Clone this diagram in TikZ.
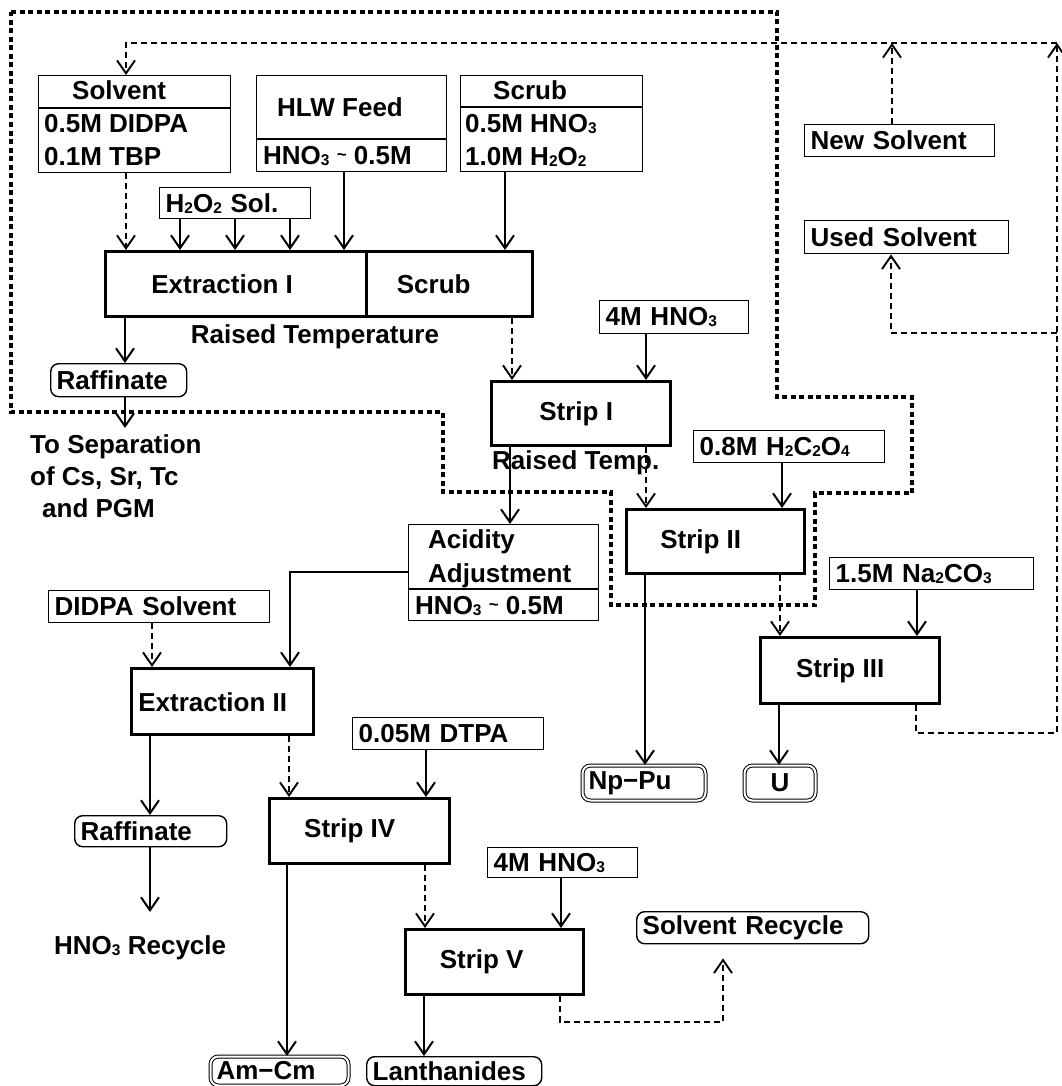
\documentclass[tikz,border=0pt]{standalone}
\usepackage{fontspec}
\setmainfont{Liberation Sans}
\usetikzlibrary{arrows.meta}
\newcommand\sbs[1]{\raisebox{-1pt}{\fontsize{15.5}{15.5}\selectfont #1}}
\newcommand\tld{\raisebox{4pt}{\fontsize{17}{17}\selectfont\textasciitilde}}
\tikzset{
  inbox/.style={draw, line width=1.4pt, anchor=north west, inner xsep=6pt, inner ysep=0pt, align=left},
  proc/.style={draw, line width=3.4pt, anchor=north west, inner sep=0pt},
  rbox/.style={draw, line width=1.4pt, rounded corners=8pt, anchor=north west, inner xsep=6pt, inner ysep=0pt, align=left},
  dbox/.style={draw, line width=1pt, double, double distance=2pt, rounded corners=8pt, anchor=north west, inner xsep=6pt, inner ysep=0pt, align=left},
  divl/.style={line width=1.4pt},
  flow/.style={line width=2pt, -{Straight Barb[length=13pt,width=18pt]}},
  sflow/.style={line width=1.9pt, dash pattern=on 6pt off 4pt, -{Straight Barb[length=13pt,width=18pt]}},
  region/.style={line width=3.3pt, dash pattern=on 5pt off 3.5pt},
  txt/.style={anchor=base west, inner sep=0pt}
}
\begin{document}
\begin{tikzpicture}[x=1pt, y=-1pt, font=\fontsize{26}{30}\selectfont\bfseries]
\useasboundingbox[fill=white] (0,0) rectangle (1061,1086);

% region boundary
\draw[region] (11,12) -- (777,12) -- (777,397) -- (912,397) -- (912,493) -- (815,493) -- (815,605) -- (611,605) -- (611,492) -- (443,492) -- (443,412) -- (11,412) -- cycle;

% feed boxes
\node[inbox, minimum width=192pt, minimum height=97pt] (solv) at (38,75) {};
\draw[divl] (solv.west |- 0,108) -- (solv.east |- 0,108);
\node[txt] (solvT) at (72,100) {Solvent};
\node[txt] (solvA) at (44,133) {0.5M DIDPA};
\node[txt] (solvB) at (44,166) {0.1M TBP};

\node[inbox, minimum width=190pt, minimum height=96pt] (hlw) at (256,75) {};
\draw[divl] (hlw.west |- 0,139) -- (hlw.east |- 0,139);
\node[txt] (hlwT) at (277,117) {HLW Feed};
\node[txt] (hlwA) at (263,165) {HNO\sbs3 \tld{} 0.5M};

\node[inbox, minimum width=182pt, minimum height=96pt] (scrubin) at (460,75) {};
\draw[divl] (scrubin.west |- 0,107) -- (scrubin.east |- 0,107);
\node[txt] (scrT) at (493,100) {Scrub};
\node[txt] (scrA) at (465,133) {0.5M HNO\sbs3};
\node[txt] (scrB) at (465,166) {1.0M H\sbs2O\sbs2};

\node[inbox, minimum width=151pt, minimum height=31pt, text width=139pt] (h2o2) at (159,187) {H\sbs2O\sbs2 Sol.};

% Extraction I / Scrub
\node[proc, minimum width=261pt, minimum height=65pt] (ext1) at (104,250) {Extraction I\kern28pt};
\node[proc, minimum width=166pt, minimum height=65pt] (scrubp) at (365,250) {Scrub\kern32pt};
\node[anchor=base, inner sep=0pt] (rt) at (315,343) {Raised Temperature};

\node[rbox, minimum width=136pt, minimum height=33pt, text width=124pt] (raf1) at (50,363) {Raffinate};
\coordinate (sepArr) at (125,428);
\node[txt] (sep1) at (30,453) {To Separation};
\node[txt] (sep2) at (30,485) {of Cs, Sr, Tc};
\node[txt] (sep3) at (42,517) {and PGM};

% Strip I, II, III
\node[proc, minimum width=179pt, minimum height=64pt] (s1) at (490,380) {Strip I\kern10pt};
\node[inbox, minimum width=149pt, minimum height=33pt, text width=137pt] (hno1) at (599,300) {4M HNO\sbs3};
\node[txt] (rtemp) at (492,469) {Raised Temp.};

\node[proc, minimum width=178pt, minimum height=64pt] (s2) at (625,508) {Strip II\kern30pt};
\node[inbox, minimum width=191pt, minimum height=32pt, text width=179pt] (h2c) at (693,430) {0.8M H\sbs2C\sbs2O\sbs4};

\node[proc, minimum width=179pt, minimum height=66pt] (s3) at (759,636) {Strip III\kern20pt};
\node[inbox, minimum width=204pt, minimum height=32pt, text width=192pt] (na) at (829,557) {1.5M Na\sbs2CO\sbs3};

\node[dbox, minimum width=123pt, minimum height=35pt, text width=111pt] (nppu) at (582,765) {Np−Pu};
\node[dbox, minimum width=71pt, minimum height=35pt, text width=59pt, align=center] (u) at (744,765) {U};

% Acidity adjustment and Extraction II
\node[inbox, minimum width=190pt, minimum height=96pt] (acid) at (408,524) {};
\draw[divl] (acid.west |- 0,589) -- (acid.east |- 0,589);
\node[txt] (acT) at (428,548) {Acidity};
\node[txt] (acA) at (428,582) {Adjustment};
\node[txt] (acB) at (415,614) {HNO\sbs3 \tld{} 0.5M};

\node[inbox, minimum width=221pt, minimum height=32pt, text width=209pt] (didpa) at (48,590) {DIDPA Solvent};
\node[proc, minimum width=182pt, minimum height=66pt] (ext2) at (130,667) {Extraction II\kern20pt};
\node[rbox, minimum width=152pt, minimum height=31pt, text width=140pt] (raf2) at (74,815) {Raffinate};
\coordinate (hrecArr) at (150,912);
\node[txt] (hrec) at (54,954) {HNO\sbs3 Recycle};

\node[inbox, minimum width=191pt, minimum height=32pt, text width=179pt] (dtpa) at (352,717) {0.05M DTPA};
\node[proc, minimum width=180pt, minimum height=65pt] (s4) at (268,797) {Strip IV\kern20pt};
\node[inbox, minimum width=150pt, minimum height=30pt, text width=138pt] (hno2) at (487,847) {4M HNO\sbs3};
\node[proc, minimum width=178pt, minimum height=65pt] (s5) at (404,928) {Strip V\kern26pt};

\node[dbox, minimum width=138pt, minimum height=29pt, text width=126pt] (amcm) at (210,1056) {Am−Cm};
\node[rbox, minimum width=175pt, minimum height=29pt, text width=163pt] (lanth) at (366,1056) {Lanthanides};
\node[rbox, minimum width=232pt, minimum height=32pt, text width=220pt] (srec) at (636,911) {Solvent Recycle};

\node[inbox, minimum width=190pt, minimum height=32pt, text width=178pt] (nsolv) at (804,124) {New Solvent};
\node[inbox, minimum width=204pt, minimum height=33pt, text width=192pt] (usolv) at (804,220) {Used Solvent};
\coordinate (topR) at (1057,43);

% solid flows
\draw[flow] (h2o2.south -| 180,0) -- (ext1.north -| 180,0);
\draw[flow] (h2o2.south -| 235,0) -- (ext1.north -| 235,0);
\draw[flow] (h2o2.south -| 290,0) -- (ext1.north -| 290,0);
\draw[flow] (hlw.south -| 344,0) -- (ext1.north -| 344,0);
\draw[flow] (scrubin.south -| 505,0) -- (scrubp.north -| 505,0);
\draw[flow] (ext1.south -| 125,0) -- (raf1.north -| 125,0);
\draw[flow] (raf1.south -| 125,0) -- (sepArr);
\draw[flow] (hno1.south -| 646,0) -- (s1.north -| 646,0);
\draw[flow] (s1.south -| 510,0) -- (acid.north -| 510,0);
\draw[flow] (h2c.south -| 782,0) -- (s2.north -| 782,0);
\draw[flow] (na.south -| 917,0) -- (s3.north -| 917,0);
\draw[flow] (s2.south -| 645,0) -- (nppu.north -| 645,0);
\draw[flow] (s3.south -| 779,0) -- (u.north -| 779,0);
\draw[flow] (acid.west |- 0,572) -- (290,572) -- (ext2.north -| 290,0);
\draw[flow] (ext2.south -| 150,0) -- (raf2.north -| 150,0);
\draw[flow] (raf2.south -| 150,0) -- (hrecArr);
\draw[flow] (dtpa.south -| 426,0) -- (s4.north -| 426,0);
\draw[flow] (s4.south -| 287,0) -- (amcm.north -| 287,0);
\draw[flow] (hno2.south -| 561,0) -- (s5.north -| 561,0);
\draw[flow] (s5.south -| 424,0) -- (lanth.north -| 424,0);

% solvent (dashed) flows
\draw[sflow] (solv.south -| 126,0) -- (ext1.north -| 126,0);
\draw[sflow] (scrubp.south -| 512,0) -- (s1.north -| 512,0);
\draw[sflow] (s1.south -| 646,0) -- (s2.north -| 646,0);
\draw[sflow] (s2.south -| 780,0) -- (s3.north -| 780,0);
\draw[sflow] (didpa.south -| 152,0) -- (ext2.north -| 152,0);
\draw[sflow] (ext2.south -| 289,0) -- (s4.north -| 289,0);
\draw[sflow] (s4.south -| 425,0) -- (s5.north -| 425,0);
\draw[sflow, shorten >=14pt] (s5.south -| 560,0) -- (560,1022) -- (723,1022) -- (srec.south -| 723,0);
\draw[sflow] (s3.south -| 916,0) -- (916,733) -- (1057,733) -- (topR);
\draw[sflow] (topR) -- (126,43) -- (solv.north -| 126,0);
\draw[sflow] (nsolv.north -| 892,0) -- (topR -| 892,0);
\draw[sflow] (topR |- 0,333) -- (891,333) -- (usolv.south -| 891,0);
\end{tikzpicture}
\end{document}
